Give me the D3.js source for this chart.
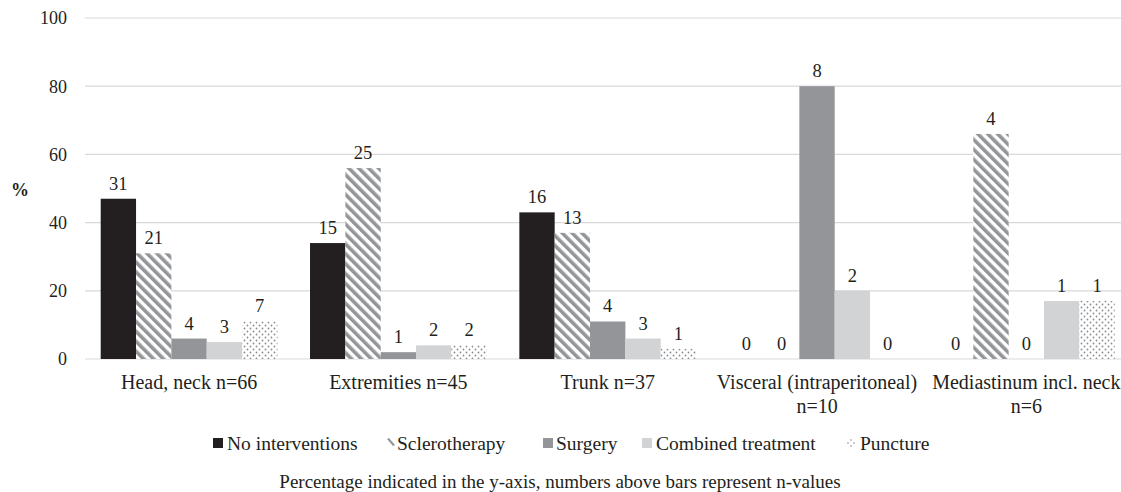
<!DOCTYPE html>
<html><head><meta charset="utf-8">
<script src="https://cdn.jsdelivr.net/npm/d3@7"></script>
<style>body{margin:0;background:#fff}svg{display:block}</style>
</head><body><svg id="c" width="1121" height="492"></svg>
<script>
const categories = ["Head, neck n=66","Extremities n=45","Trunk n=37","Visceral (intraperitoneal) n=10","Mediastinum incl. neck n=6"];
const categoryLines = [["Head, neck n=66"],["Extremities n=45"],["Trunk n=37"],["Visceral (intraperitoneal)","n=10"],["Mediastinum incl. neck","n=6"]];
const series = ["No interventions","Sclerotherapy","Surgery","Combined treatment","Puncture"];
const noInterventions = [47, 34, 43, 0, 0];
const sclerotherapy = [31, 56, 37, 0, 66];
const surgery = [6, 2, 11, 80, 0];
const combined = [5, 4, 6, 20, 17];
const puncture = [11, 4, 3, 0, 17];
const nNoInterventions = [31, 15, 16, 0, 0];
const nSclerotherapy = [21, 25, 13, 0, 4];
const nSurgery = [4, 1, 4, 8, 0];
const nCombined = [3, 2, 3, 2, 1];
const nPuncture = [7, 2, 1, 0, 1];
const yTicks = [0, 20, 40, 60, 80, 100];
const caption = "Percentage indicated in the y-axis, numbers above bars represent n-values";

const values = [noInterventions, sclerotherapy, surgery, combined, puncture];
const counts = [nNoInterventions, nSclerotherapy, nSurgery, nCombined, nPuncture];

const FONT = "'Liberation Serif', 'DejaVu Serif', serif";
const TXT = "#231f20";
const svg = d3.select("#c").attr("font-family", FONT).style("font-family", FONT);
const defs = svg.append("defs");
const stripe = defs.append("pattern").attr("id","stripe").attr("patternUnits","userSpaceOnUse")
  .attr("width",7).attr("height",7).attr("patternTransform","rotate(-45)");
stripe.append("rect").attr("width",7).attr("height",7).attr("fill","#fff");
stripe.append("rect").attr("width",3.6).attr("height",7).attr("fill","#939598");
const dots = defs.append("pattern").attr("id","dots").attr("patternUnits","userSpaceOnUse")
  .attr("width",6).attr("height",6);
dots.append("rect").attr("width",6).attr("height",6).attr("fill","#fff");
dots.append("circle").attr("cx",1.5).attr("cy",1.5).attr("r",0.9).attr("fill","#8a8c8f");
dots.append("circle").attr("cx",4.5).attr("cy",4.5).attr("r",0.9).attr("fill","#8a8c8f");
const fills = ["#231f20","url(#stripe)","#939598","#d1d3d4","url(#dots)"];

const left = 84.4, right = 1131, y0 = 359, y100 = 18;
const x0 = d3.scaleBand().domain(categories).range([left, right]);
const x1 = d3.scaleBand().domain(series).range([16.3, x0.bandwidth() - 16.3]);
const y = d3.scaleLinear().domain([0, 100]).range([y0, y100]);

svg.append("g").selectAll("line").data(yTicks).join("line")
  .attr("x1", 85).attr("x2", 1121).attr("y1", d => y(d)).attr("y2", d => y(d))
  .attr("stroke", "#d9d9d9").attr("stroke-width", 1.2);
svg.append("g").selectAll("text").data(yTicks).join("text")
  .attr("x", 67).attr("y", d => y(d)).attr("dy", "0.35em").attr("text-anchor","end")
  .attr("font-size", 18).attr("fill",TXT).text(d => d);
svg.append("text").attr("x", 20).attr("y", 190).attr("dy","0.35em").attr("text-anchor","middle")
  .attr("font-size", 18).attr("font-weight","bold").attr("fill",TXT).text("%");

series.forEach((s, si) => {
  const g = svg.append("g");
  g.selectAll("rect").data(categories).join("rect")
    .attr("x", (c) => x0(c) + x1(s)).attr("width", x1.bandwidth())
    .attr("y", (c, i) => y(values[si][i])).attr("height", (c, i) => y0 - y(values[si][i]))
    .attr("fill", fills[si]);
  g.selectAll("text").data(categories).join("text")
    .attr("x", (c) => x0(c) + x1(s) + x1.bandwidth() / 2)
    .attr("y", (c, i) => y(values[si][i]) - 9)
    .attr("text-anchor", "middle").attr("font-size", 18.5).attr("fill",TXT)
    .text((c, i) => counts[si][i]);
});

categories.forEach((c, i) => {
  const cx = x0(c) + x0.bandwidth()/2;
  const t = svg.append("text").attr("text-anchor","middle").attr("font-size",20).attr("fill",TXT)
    .attr("x", cx).attr("y", 389);
  categoryLines[i].forEach((l, li) => t.append("tspan").attr("x", cx)
    .attr("dy", li ? 24 : 0).text(l));
});

const legX = [213, 387, 543, 642, 848];
const legT = [227, 397, 556, 656, 860];
series.forEach((s, si) => {
  const g = svg.append("g").attr("transform", `translate(${legX[si]},443)`);
  if (si === 1) {
    g.append("path").attr("d","M0,-4 L2,-5 L8,2 L6,3 Z").attr("fill","#939598");
  } else if (si === 4) {
    [[3,-3],[0,0],[6,0],[3,3]].forEach(p =>
      g.append("circle").attr("cx",p[0]).attr("cy",p[1]).attr("r",0.8).attr("fill","#8a8c8f"));
  } else {
    g.append("rect").attr("x",0).attr("y",-5).attr("width",10).attr("height",10).attr("fill",fills[si]);
  }
  g.append("text").attr("x", legT[si] - legX[si]).attr("dy","0.35em")
    .attr("font-size",19.5).attr("fill",TXT).text(s);
});

svg.append("text").attr("x", 560).attr("y", 488).attr("text-anchor","middle")
  .attr("font-size", 19).attr("fill",TXT).text(caption);
</script></body></html>
